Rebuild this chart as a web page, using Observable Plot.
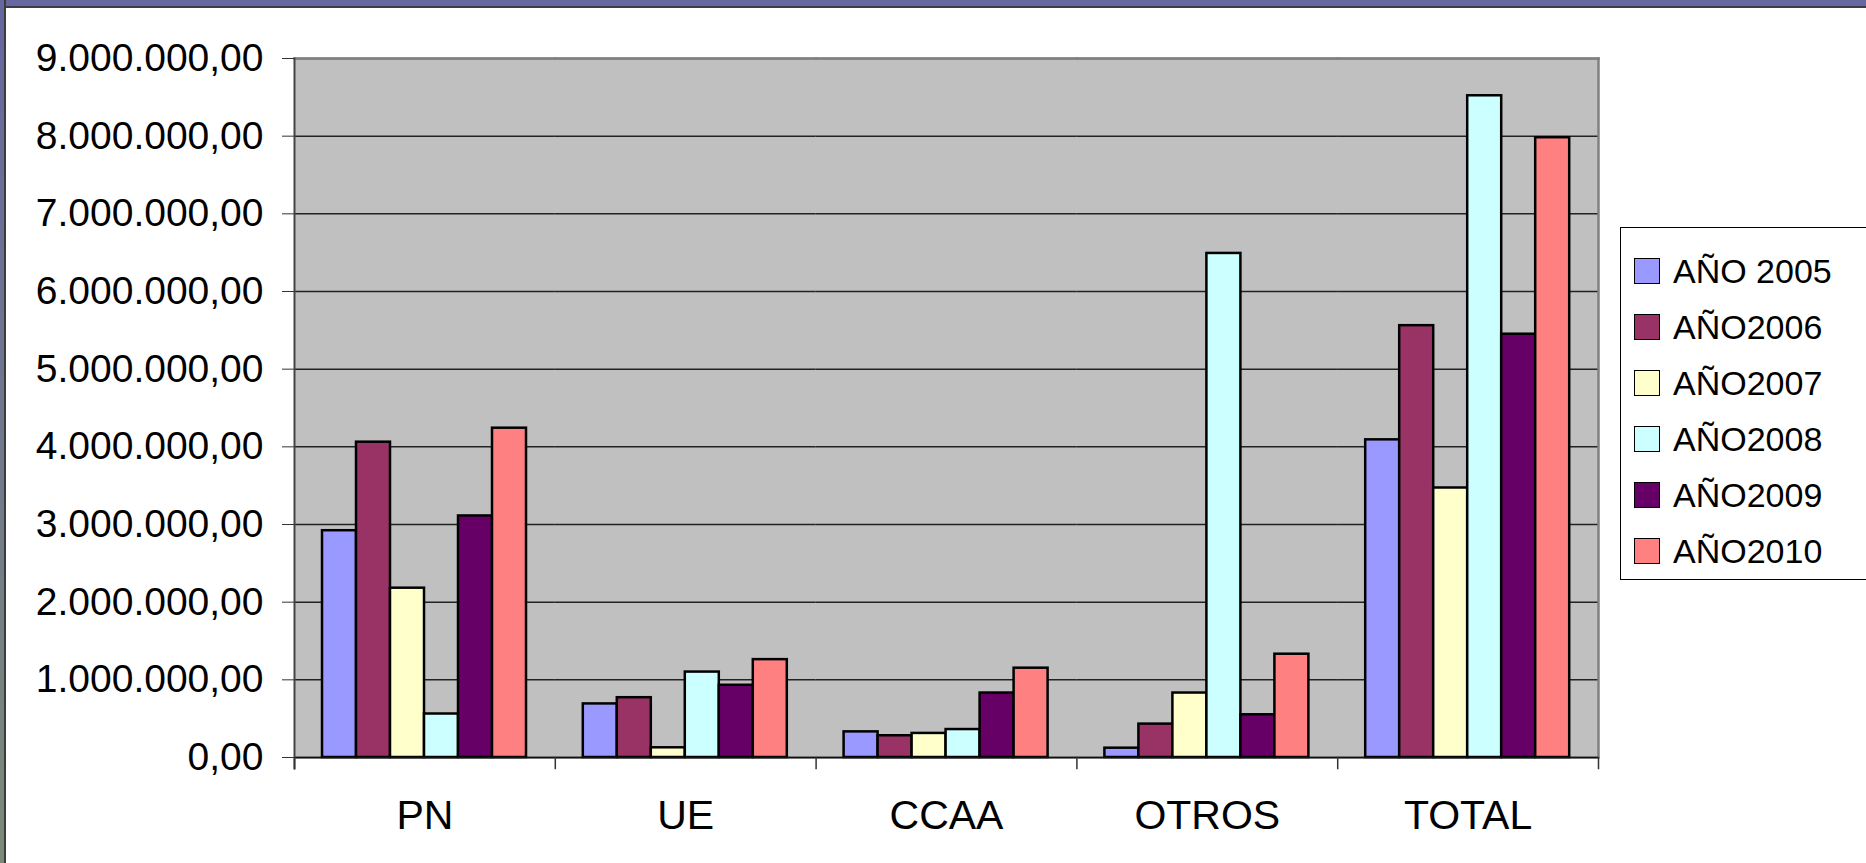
<!DOCTYPE html>
<html>
<head>
<meta charset="utf-8">
<script src="https://cdn.jsdelivr.net/npm/d3@7"></script>
<script src="https://cdn.jsdelivr.net/npm/@observablehq/plot@0.6"></script>
<style>
html, body { margin: 0; padding: 0; background: #fff; }
#page { position: relative; width: 1866px; height: 863px; overflow: hidden; background: #fff; font-family: "Liberation Sans", Arial, sans-serif; }
#chart { position: absolute; left: 0; top: 0; }
#topband { position: absolute; left: 0; top: 0; width: 1866px; height: 6px; background: #6666a0; border-bottom: 2px solid #3c3c48; }
#leftband { position: absolute; left: 0; top: 0; width: 4px; height: 863px; background: linear-gradient(#6666a0, #7b8a78); border-right: 2px solid #3c3c3c; }
#legend { position: absolute; left: 1620px; top: 227px; width: 300px; height: 353px; border: 1.5px solid #000; background: #fff; box-sizing: border-box; padding-top: 15px; }
.row { display: flex; align-items: center; height: 56px; padding-left: 13px; }
.sw { width: 24px; height: 24px; border: 1.5px solid #000; margin-right: 13px; flex: none; }
.lab { font-size: 34px; color: #000; line-height: 1; white-space: nowrap; }
</style>
</head>
<body>
<div id="page">
  <div id="chart"></div>
  <div id="topband"></div>
  <div id="leftband"></div>
  <div id="legend"></div>
</div>
<script>
// ---- data ----
const categories = ["PN", "UE", "CCAA", "OTROS", "TOTAL"];
const series = ["AÑO 2005", "AÑO2006", "AÑO2007", "AÑO2008", "AÑO2009", "AÑO2010"];
const colors = ["#9999ff", "#993366", "#ffffcc", "#ccffff", "#660066", "#ff8080"];

const v2005 = [2920000, 690000, 330000, 120000, 4090000];
const v2006 = [4060000, 770000, 280000, 430000, 5560000];
const v2007 = [2180000, 125000, 310000, 830000, 3470000];
const v2008 = [560000, 1100000, 360000, 6490000, 8520000];
const v2009 = [3110000, 930000, 830000, 550000, 5450000];
const v2010 = [4240000, 1260000, 1150000, 1330000, 7980000];

const yTicks = [0, 1000000, 2000000, 3000000, 4000000, 5000000, 6000000, 7000000, 8000000, 9000000];

// ---- table ----
const seriesValues = [v2005, v2006, v2007, v2008, v2009, v2010];
const data = [];
series.forEach((s, i) => {
  categories.forEach((c, j) => data.push({cat: c, series: s, value: seriesValues[i][j]}));
});

const locale = d3.formatLocale({decimal: ",", thousands: ".", grouping: [3], currency: ["", ""]});
const fmt = locale.format(",.2f");

const W = 1866, H = 863;
const mL = 294, mR = 268, mT = 58, mB = 106;
const plotH = H - mT - mB;

const chart = Plot.plot({
  width: W,
  height: H,
  marginLeft: mL,
  marginRight: mR,
  marginTop: mT,
  marginBottom: mB,
  style: {fontFamily: "'Liberation Sans', Arial, sans-serif", color: "#000", background: "transparent"},
  fx: {domain: categories, padding: 0, round: false, label: null},
  x: {domain: series, paddingInner: 0, paddingOuter: 0.75, axis: null},
  y: {domain: [0, 9000000]},
  color: {domain: series, range: colors},
  marks: [
    Plot.frame({fill: "#c0c0c0", stroke: "#c0c0c0", strokeWidth: 2, shapeRendering: "crispEdges"}),
    Plot.gridY(yTicks, {stroke: "#222", strokeOpacity: 1, strokeWidth: 1.5}),
    Plot.frame({anchor: "top", stroke: "#808080", strokeWidth: 2.5}),
    Plot.frame({anchor: "right", facetAnchor: "right", stroke: "#808080", strokeWidth: 2.5}),
    Plot.barY(data, {fx: "cat", x: "series", y: "value", fill: "series", stroke: "#000", strokeWidth: 2.5}),
    Plot.ruleY([0], {stroke: "#111", strokeWidth: 1.5}),
    Plot.frame({anchor: "left", facetAnchor: "left", stroke: "#444", strokeWidth: 2, insetBottom: -11}),
    Plot.frame({anchor: "left", stroke: "#333", strokeWidth: 1.5, insetTop: plotH, insetBottom: -11}),
    Plot.frame({anchor: "right", facetAnchor: "right", stroke: "#333", strokeWidth: 1.5, insetTop: plotH, insetBottom: -11}),
    Plot.axisY(yTicks, {anchor: "left", tickFormat: fmt, tickSize: 12, tickPadding: 19, fontSize: 39, stroke: "#333", fill: "#000", label: null}),
    Plot.axisFx({anchor: "bottom", tickSize: 0, tickPadding: 42, fontSize: 41, fill: "#000", label: null})
  ]
});
document.getElementById("chart").appendChild(chart);

// ---- legend ----
const legend = document.getElementById("legend");
series.forEach((s, i) => {
  const row = document.createElement("div");
  row.className = "row";
  const sw = document.createElement("div");
  sw.className = "sw";
  sw.style.background = colors[i];
  const lab = document.createElement("span");
  lab.className = "lab";
  lab.textContent = s;
  row.appendChild(sw);
  row.appendChild(lab);
  legend.appendChild(row);
});
</script>
</body>
</html>
